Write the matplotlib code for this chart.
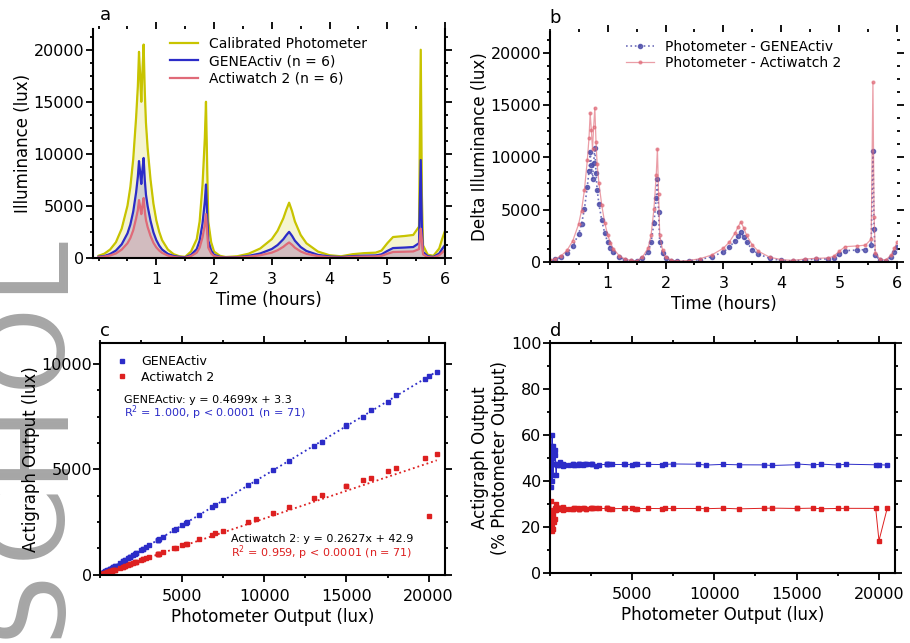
import numpy as np
import matplotlib
matplotlib.use("Agg")
import matplotlib.pyplot as plt
from matplotlib.ticker import MultipleLocator

plt.rcParams['font.family'] = ['DejaVu Sans']
plt.rcParams['font.size'] = 11

# time course of one recording (hours) and the three light sensors (lux)
time_h = [0.00, 0.10, 0.20, 0.30, 0.40, 0.50, 0.55, 0.60, 0.65, 0.68,
          0.70, 0.72, 0.74, 0.76, 0.78, 0.80, 0.82, 0.85, 0.90, 0.95,
          1.00, 1.05, 1.10, 1.20, 1.30, 1.40, 1.50, 1.60, 1.70, 1.75,
          1.80, 1.84, 1.86, 1.88, 1.90, 1.95, 2.00, 2.10, 2.20, 2.40,
          2.60, 2.80, 3.00, 3.10, 3.20, 3.25, 3.30, 3.35, 3.40, 3.50,
          3.60, 3.80, 4.00, 4.20, 4.40, 4.60, 4.80, 4.90, 5.00, 5.10,
          5.30, 5.45, 5.55, 5.58, 5.60, 5.62, 5.70, 5.80, 5.90, 5.95, 6.00]

photometer_lux = [200, 400, 800, 1500, 2800, 5000, 6800, 9500, 13500, 16500,
                  19800, 17500, 15000, 18000, 20500, 16000, 13000, 10500, 7500, 5200,
                  3600, 2500, 1700, 800, 350, 150, 100, 600, 1800, 3500,
                  7000, 11500, 15000, 9000, 3500, 1500, 600, 200, 80, 150,
                  400, 900, 1800, 2600, 3800, 4600, 5300, 4500, 3500, 2200,
                  1400, 600, 250, 150, 350, 450, 500, 700, 1400, 2000,
                  2100, 2200, 3000, 20000, 6000, 1200, 300, 200, 900, 1800, 2600]

geneactiv_lux = [110, 170, 370, 700, 1300, 2350, 3200, 4450, 6300, 7800,
                 9300, 8200, 7100, 8500, 9600, 7500, 6100, 4950, 3550, 2450,
                 1700, 1180, 800, 380, 180, 90, 55, 280, 850, 1650,
                 3300, 5400, 7050, 4250, 1650, 700, 290, 95, 30, 60,
                 190, 420, 850, 1230, 1790, 2170, 2500, 2120, 1650, 1040,
                 660, 285, 130, 75, 165, 210, 235, 330, 660, 940,
                 990, 1040, 1410, 9400, 2830, 565, 160, 85, 420, 850, 1230]

actiwatch_lux = [50, 120, 230, 420, 790, 1400, 1900, 2650, 3800, 4600,
                 5550, 4900, 4200, 5050, 5750, 4500, 3650, 2950, 2100, 1450,
                 1000, 700, 480, 220, 95, 30, 20, 170, 500, 980,
                 1960, 3200, 4200, 2520, 980, 420, 170, 55, 25, 40,
                 110, 250, 500, 730, 1060, 1290, 1480, 1260, 980, 615,
                 390, 170, 55, 27, 98, 125, 140, 195, 390, 560,
                 590, 615, 840, 2800, 1680, 335, 70, 38, 250, 500, 730]

legend_a = ['Calibrated Photometer', 'GENEActiv (n = 6)', 'Actiwatch 2 (n = 6)']
legend_b = ['Photometer - GENEActiv', 'Photometer - Actiwatch 2']
legend_c = ['GENEActiv', 'Actiwatch 2']

c_phot = '#c8c400'
c_gene = '#2c2cc8'
c_acti = '#e06a78'
c_red = '#dd2020'

t = np.array(time_h)
p = np.array(photometer_lux, dtype=float)
g = np.array(geneactiv_lux, dtype=float)
a = np.array(actiwatch_lux, dtype=float)

fig = plt.figure(figsize=(9.1, 6.43), dpi=100)

# faint lettering running up the left margin
for letter, yc in zip('SCHOL', [603, 520, 438, 344, 262]):
    fig.text(58 / 910, 1 - yc / 643, letter, rotation=90, rotation_mode='anchor',
             ha='center', va='baseline', fontsize=80, color='#a6a6a6', zorder=-1)

ax_a = fig.add_axes([0.102, 0.599, 0.387, 0.356])
ax_b = fig.add_axes([0.604, 0.593, 0.382, 0.357])
ax_c = fig.add_axes([0.110, 0.106, 0.379, 0.361])
ax_d = fig.add_axes([0.604, 0.109, 0.380, 0.358])


def style_axes(ax, show_top=True, show_right=True):
    ax.spines['top'].set_visible(show_top)
    ax.spines['right'].set_visible(show_right)
    for s in ax.spines.values():
        s.set_linewidth(1.5)
    ax.tick_params(which='both', top=True, right=True, direction='out', width=1.3)
    ax.tick_params(which='major', length=5, pad=5)
    ax.tick_params(which='minor', length=2.5)
    ax.tick_params(axis='y', which='major', pad=1)
    ax.tick_params(axis='both', labelsize=11.5)


# --- a: raw illuminance traces ---
for y, col, lab in [(p, c_phot, legend_a[0]), (g, c_gene, legend_a[1]), (a, c_acti, legend_a[2])]:
    ax_a.fill_between(t, 0, y, color=col, alpha=0.18, lw=0)
    ax_a.plot(t, y, color='#444444', lw=0.6, alpha=0.6)
    ax_a.plot(t, y, color=col, lw=1.6, label=lab)
ax_a.set_xlim(-0.1, 6)
ax_a.set_ylim(0, 22000)
ax_a.set_xticks([1, 2, 3, 4, 5, 6])
ax_a.set_yticks([0, 5000, 10000, 15000, 20000])
ax_a.xaxis.set_minor_locator(MultipleLocator(0.5))
ax_a.yaxis.set_minor_locator(MultipleLocator(1250))
ax_a.set_xlabel('Time (hours)', fontsize=12, labelpad=3)
ax_a.set_ylabel('Illuminance (lux)', fontsize=12, labelpad=1)
style_axes(ax_a, show_top=False)
ax_a.legend(loc='upper center', bbox_to_anchor=(0.5, 1.02), frameon=False,
            fontsize=10, handlelength=2.0, labelspacing=0.25)
ax_a.text(0.02, 1.04, 'a', transform=ax_a.transAxes, fontsize=13)

# --- b: photometer minus actigraph ---
diff_g = p - g
diff_a = p - a
ax_b.plot(t, diff_g, ':', color='#4a4aa8', lw=1.2, marker='o', ms=3, alpha=0.8, label=legend_b[0])
ax_b.plot(t, diff_a, '-', color=c_acti, lw=0.9, marker='o', ms=2, alpha=0.65, label=legend_b[1])
ax_b.set_xlim(0, 6)
ax_b.set_ylim(0, 22000)
ax_b.set_xticks([1, 2, 3, 4, 5, 6])
ax_b.set_yticks([0, 5000, 10000, 15000, 20000])
ax_b.xaxis.set_minor_locator(MultipleLocator(0.5))
ax_b.yaxis.set_minor_locator(MultipleLocator(1250))
ax_b.set_xlabel('Time (hours)', fontsize=12, labelpad=3)
ax_b.set_ylabel('Delta Illuminance (lux)', fontsize=12, labelpad=1)
style_axes(ax_b, show_top=False, show_right=False)
ax_b.legend(loc='upper center', bbox_to_anchor=(0.53, 1.02), frameon=False,
            fontsize=10, handlelength=2.0, labelspacing=0.15)
ax_b.text(0.0, 1.04, 'b', transform=ax_b.transAxes, fontsize=13)

# --- c: actigraph vs photometer with linear fits ---
xfit = np.array([0, p.max()])
fits = []
for y, col, lab in [(g, c_gene, legend_c[0]), (a, c_red, legend_c[1])]:
    slope, icpt = np.polyfit(p, y, 1)
    r2 = np.corrcoef(p, y)[0, 1] ** 2
    fits.append((slope, icpt, r2))
    ax_c.plot(p, y, 's', color=col, ms=2.6, label=lab)
    ax_c.plot(xfit, slope * xfit + icpt, ':', color=col, lw=1.3)
ax_c.set_xlim(0, 21000)
ax_c.set_ylim(0, 11000)
ax_c.set_xticks([5000, 10000, 15000, 20000])
ax_c.set_yticks([0, 5000, 10000])
ax_c.xaxis.set_minor_locator(MultipleLocator(2500))
ax_c.yaxis.set_minor_locator(MultipleLocator(1250))
ax_c.set_xlabel('Photometer Output (lux)', fontsize=12, labelpad=3)
ax_c.set_ylabel('Actigraph Output (lux)', fontsize=12, labelpad=1)
style_axes(ax_c)
ax_c.legend(loc='upper left', frameon=False, fontsize=9, handlelength=1.5,
            labelspacing=0.2, borderaxespad=0.6, markerscale=1.2)
ax_c.text(0.0, 1.03, 'c', transform=ax_c.transAxes, fontsize=13)
sg, ig, rg = fits[0]
sa, ia, ra = fits[1]
ax_c.text(0.07, 0.74, f'GENEActiv: y = {sg:.4f}x + {ig:.1f}', transform=ax_c.transAxes,
          fontsize=8, color='black')
ax_c.text(0.07, 0.68, f'R$^2$ = {rg:.3f}, p < 0.0001 (n = {len(p)})', transform=ax_c.transAxes,
          fontsize=8, color=c_gene)
ax_c.text(0.38, 0.14, f'Actiwatch 2: y = {sa:.4f}x + {ia:.1f}', transform=ax_c.transAxes,
          fontsize=8, color='black')
ax_c.text(0.38, 0.08, f'R$^2$ = {ra:.3f}, p < 0.0001 (n = {len(p)})', transform=ax_c.transAxes,
          fontsize=8, color=c_red)

# --- d: actigraph output as percentage of photometer ---
order = np.argsort(p)
for y, col in [(g, c_gene), (a, c_red)]:
    pct = 100 * y / p
    ax_d.plot(p[order], pct[order], '-s', color=col, lw=0.7, ms=2.6)
ax_d.set_xlim(0, 21000)
ax_d.set_ylim(0, 100)
ax_d.set_xticks([5000, 10000, 15000, 20000])
ax_d.set_yticks([0, 20, 40, 60, 80, 100])
ax_d.xaxis.set_minor_locator(MultipleLocator(2500))
ax_d.yaxis.set_minor_locator(MultipleLocator(10))
ax_d.set_xlabel('Photometer Output (lux)', fontsize=12, labelpad=3)
ax_d.set_ylabel('Actigraph Output\n(% Photometer Output)', fontsize=12, labelpad=1)
style_axes(ax_d)
ax_d.text(0.0, 1.03, 'd', transform=ax_d.transAxes, fontsize=13)

fig.savefig('out.png', dpi=100)
